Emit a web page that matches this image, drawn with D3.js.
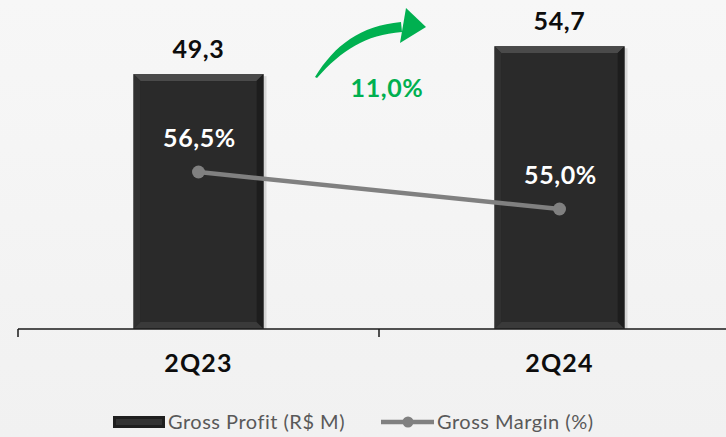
<!DOCTYPE html>
<html lang="en">
<head>
  <meta charset="UTF-8">
  <title>Gross Profit</title>
  <script src="https://d3js.org/d3.v7.min.js"></script>
  <style>
    body { margin: 0; background: #f3f3f3; }
    svg { display: block; }
    text { font-family: Lato, "DejaVu Sans", sans-serif; }
  </style>
</head>
<body>
  <svg width="726" height="437"></svg>

  <script>
    // dados
    const periods = ["2Q23", "2Q24"];
    const grossProfit = [49.3, 54.7];
    const grossMargin = [56.5, 55.0];
    const growthLabel = "11,0%";
    const fmt = v => v.toFixed(1).replace(".", ",");

    const svg = d3.select("svg");
    const width = +svg.attr("width");
    const height = +svg.attr("height");

    // fundo
    const defs = svg.append("defs");
    const bg = defs.append("linearGradient").attr("id", "bg")
      .attr("x1", 0).attr("y1", 0).attr("x2", 0).attr("y2", 1);
    bg.append("stop").attr("offset", "0%").attr("stop-color", "#f7f7f7");
    bg.append("stop").attr("offset", "100%").attr("stop-color", "#f1f1f1");
    svg.append("rect").attr("width", width).attr("height", height).attr("fill", "url(#bg)");

    const baseY = 329;
    const x = d3.scaleBand().domain(periods).range([18, 740]).padding(0);
    const y = d3.scaleLinear().domain([0, 60]).range([baseY, baseY - 60 * 5.17]);
    // eixo secundário (margem)
    const y2 = d3.scaleLinear().domain([55, 56.5]).range([209, 172]);

    const barW = x.bandwidth() * 0.36;
    const bev = 7;

    const bars = svg.append("g").selectAll("g")
      .data(periods.map((p, i) => ({ p, v: grossProfit[i] })))
      .join("g")
      .attr("transform", d => `translate(${x(d.p) + x.bandwidth() / 2 - barW / 2},${y(d.v)})`);

    bars.append("rect")
      .attr("x", 3).attr("y", 2)
      .attr("width", barW).attr("height", d => baseY - y(d.v) - 2)
      .attr("fill", "#000").attr("opacity", 0.12);

    bars.append("rect")
      .attr("width", barW).attr("height", d => baseY - y(d.v))
      .attr("fill", "#262626");

    // bisel
    bars.append("path").attr("fill", "#4a4a4a")
      .attr("d", `M0,0H${barW}L${barW - bev},${bev}H${bev}Z`);
    bars.append("path").attr("fill", "#303030")
      .attr("d", d => `M0,0L${bev},${bev}V${baseY - y(d.v) - bev}L0,${baseY - y(d.v)}Z`);
    bars.append("path").attr("fill", "#1d1d1d")
      .attr("d", d => `M${barW},0L${barW - bev},${bev}V${baseY - y(d.v) - bev}L${barW},${baseY - y(d.v)}Z`);
    bars.append("path").attr("fill", "#3a3a3a")
      .attr("d", d => { const h = baseY - y(d.v); return `M0,${h}L${bev},${h - bev}H${barW - bev}L${barW},${h}Z`; });
    bars.append("rect")
      .attr("x", bev).attr("y", bev)
      .attr("width", barW - 2 * bev).attr("height", d => baseY - y(d.v) - 2 * bev)
      .attr("fill", "#2a2a2a");

    const big = sel => sel
      .attr("font-size", 25).attr("font-weight", "bold").attr("letter-spacing", 0.6);

    // rótulos das barras
    svg.append("g").selectAll("text")
      .data(periods.map((p, i) => ({ p, v: grossProfit[i] })))
      .join("text")
      .attr("x", d => x(d.p) + x.bandwidth() / 2)
      .attr("y", d => y(d.v) - 16)
      .attr("text-anchor", "middle")
      .call(big).attr("fill", "#0d0d0d")
      .text(d => fmt(d.v));

    // eixo x
    const axis = svg.append("g").attr("stroke", "#1a1a1a").attr("stroke-width", 1.5);
    axis.append("line").attr("x1", 18).attr("x2", width).attr("y1", baseY).attr("y2", baseY);
    axis.selectAll("line.tick")
      .data(periods.concat(["end"]))
      .join("line").attr("class", "tick")
      .attr("x1", (d, i) => i < periods.length ? x(d) : x(periods[periods.length - 1]) + x.bandwidth())
      .attr("x2", (d, i) => i < periods.length ? x(d) : x(periods[periods.length - 1]) + x.bandwidth())
      .attr("y1", baseY).attr("y2", baseY + 8);

    svg.append("g").selectAll("text")
      .data(periods)
      .join("text")
      .attr("x", d => x(d) + x.bandwidth() / 2)
      .attr("y", baseY + 43)
      .attr("text-anchor", "middle")
      .call(big).attr("letter-spacing", 1.2).attr("fill", "#0d0d0d")
      .text(d => d);

    // linha da margem
    const pts = periods.map((p, i) => ({ p, v: grossMargin[i] }));
    svg.append("path")
      .datum(pts)
      .attr("fill", "none").attr("stroke", "#808080").attr("stroke-width", 4.5)
      .attr("d", d3.line().x(d => x(d.p) + x.bandwidth() / 2).y(d => y2(d.v)));
    svg.append("g").selectAll("circle")
      .data(pts).join("circle")
      .attr("cx", d => x(d.p) + x.bandwidth() / 2)
      .attr("cy", d => y2(d.v))
      .attr("r", 6.5).attr("fill", "#808080");
    svg.append("g").selectAll("text")
      .data(pts).join("text")
      .attr("x", d => x(d.p) + x.bandwidth() / 2 + 1)
      .attr("y", d => y2(d.v) - 25)
      .attr("text-anchor", "middle")
      .call(big).attr("fill", "#ffffff")
      .text(d => fmt(d.v) + "%");

    // seta de crescimento
    const green = "#00b050";
    const arrow = svg.append("g").attr("fill", green);
    arrow.append("path")
      .attr("d", "M315,77 C335,45 360,26 401,22 L402,32 C365,35 342,50 317,78 Z");
    arrow.append("path")
      .attr("d", "M406,8 L426,27 L400,43 Z");
    svg.append("text")
      .attr("x", 387).attr("y", 97)
      .attr("text-anchor", "middle")
      .call(big).attr("fill", green)
      .text(growthLabel);

    // legenda
    const leg = svg.append("g").attr("transform", "translate(0,422)");
    leg.append("rect").attr("x", 113).attr("y", -6).attr("width", 52).attr("height", 12).attr("fill", "#1f1f1f");
    leg.append("rect").attr("x", 116).attr("y", -3).attr("width", 46).attr("height", 6).attr("fill", "#333");
    leg.append("text").attr("x", 168).attr("y", 7)
      .attr("font-size", 20).attr("letter-spacing", 0.5).attr("fill", "#595959").text("Gross Profit (R$ M)");
    leg.append("line").attr("x1", 381).attr("x2", 434).attr("y1", 0).attr("y2", 0)
      .attr("stroke", "#808080").attr("stroke-width", 4.5);
    leg.append("circle").attr("cx", 408).attr("cy", 0).attr("r", 5.5).attr("fill", "#808080");
    leg.append("text").attr("x", 437).attr("y", 7)
      .attr("font-size", 20).attr("letter-spacing", 0.5).attr("fill", "#595959").text("Gross Margin (%)");
  </script>
</body>
</html>
